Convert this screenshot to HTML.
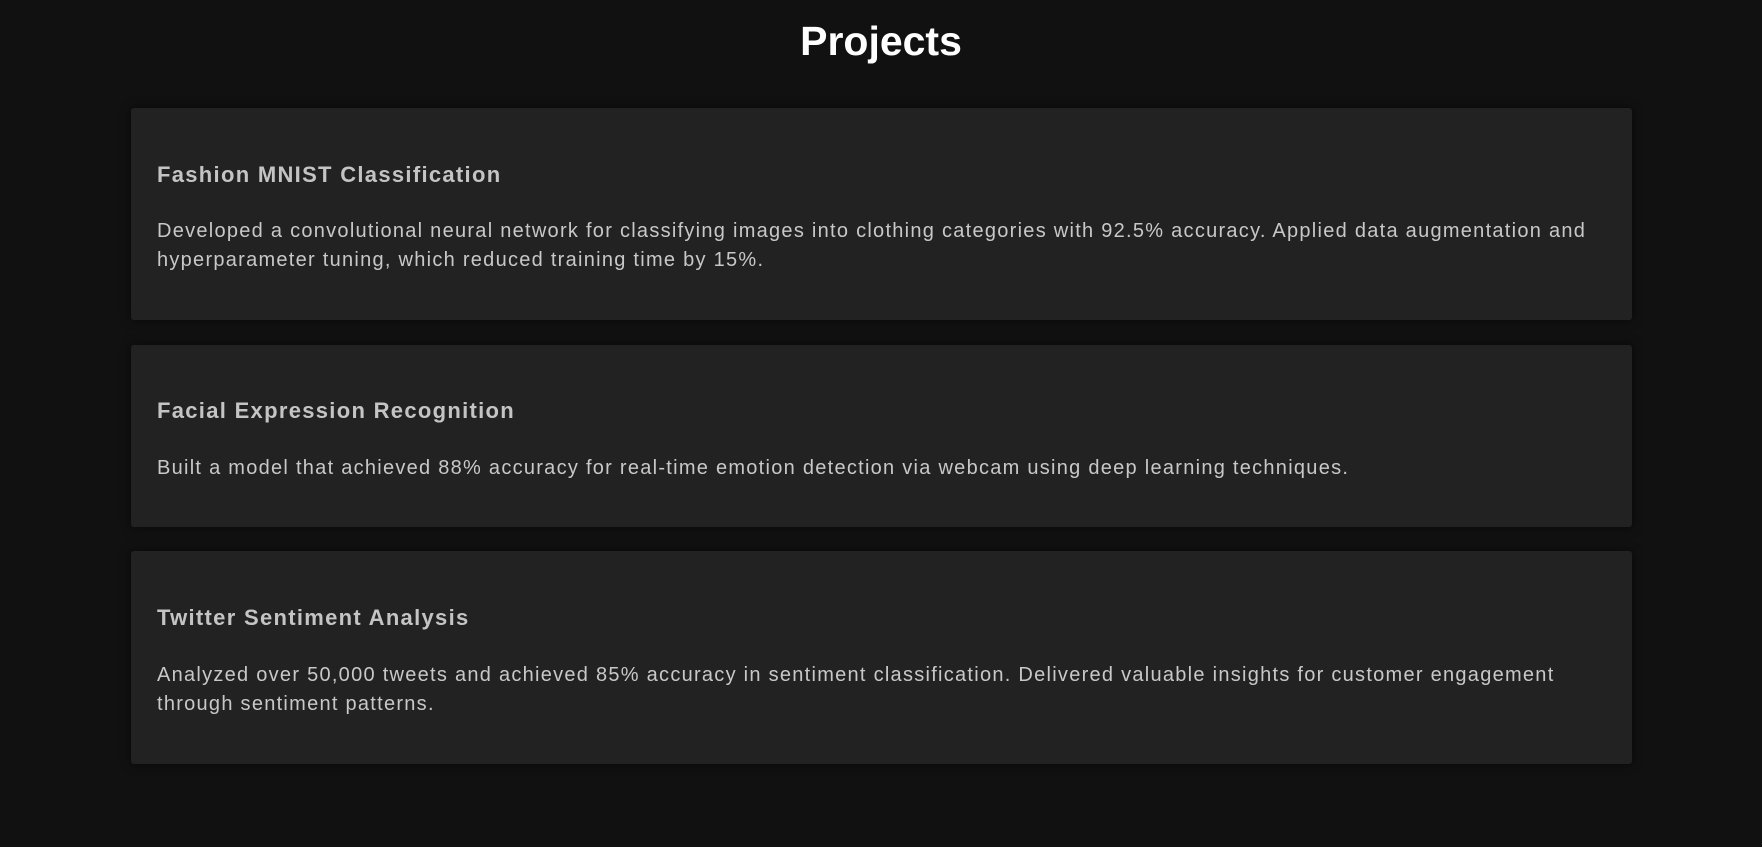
<!DOCTYPE html>
<html><head><meta charset="utf-8"><style>
html,body{margin:0;padding:0;background:#111111;width:1762px;height:847px;overflow:hidden;font-family:"Liberation Sans",sans-serif;}
h1{position:absolute;top:16px;left:0;width:1762px;text-align:center;margin:0;color:#fff;font-size:41px;font-weight:bold;line-height:50px;}
.card{position:absolute;left:131px;width:1501px;background:#222222;box-shadow:0 0 10px rgba(0,0,0,0.6);border-radius:3px;}
.card h3{position:absolute;left:26px;margin:0;color:#c4c4c4;font-size:22px;font-weight:bold;line-height:28px;letter-spacing:1.3px;white-space:nowrap;}
.card p{position:absolute;left:26px;width:1480px;margin:0;color:#c8c8c8;font-size:20px;line-height:29px;letter-spacing:1.27px;white-space:nowrap;}
</style></head><body>
<h1>Projects</h1>
<div class="card" style="top:108px;height:212px;">
<h3 style="top:53px">Fashion MNIST Classification</h3>
<p style="top:109px">Developed a convolutional neural network for classifying images into clothing categories with 92.5% accuracy. Applied data augmentation and<br>hyperparameter tuning, which reduced training time by 15%.</p>
</div>
<div class="card" style="top:345px;height:182px;">
<h3 style="top:52px">Facial Expression Recognition</h3>
<p style="top:109px">Built a model that achieved 88% accuracy for real-time emotion detection via webcam using deep learning techniques.</p>
</div>
<div class="card" style="top:551px;height:213px;">
<h3 style="top:53px">Twitter Sentiment Analysis</h3>
<p style="top:110px">Analyzed over 50,000 tweets and achieved 85% accuracy in sentiment classification. Delivered valuable insights for customer engagement<br>through sentiment patterns.</p>
</div>
</body></html>
